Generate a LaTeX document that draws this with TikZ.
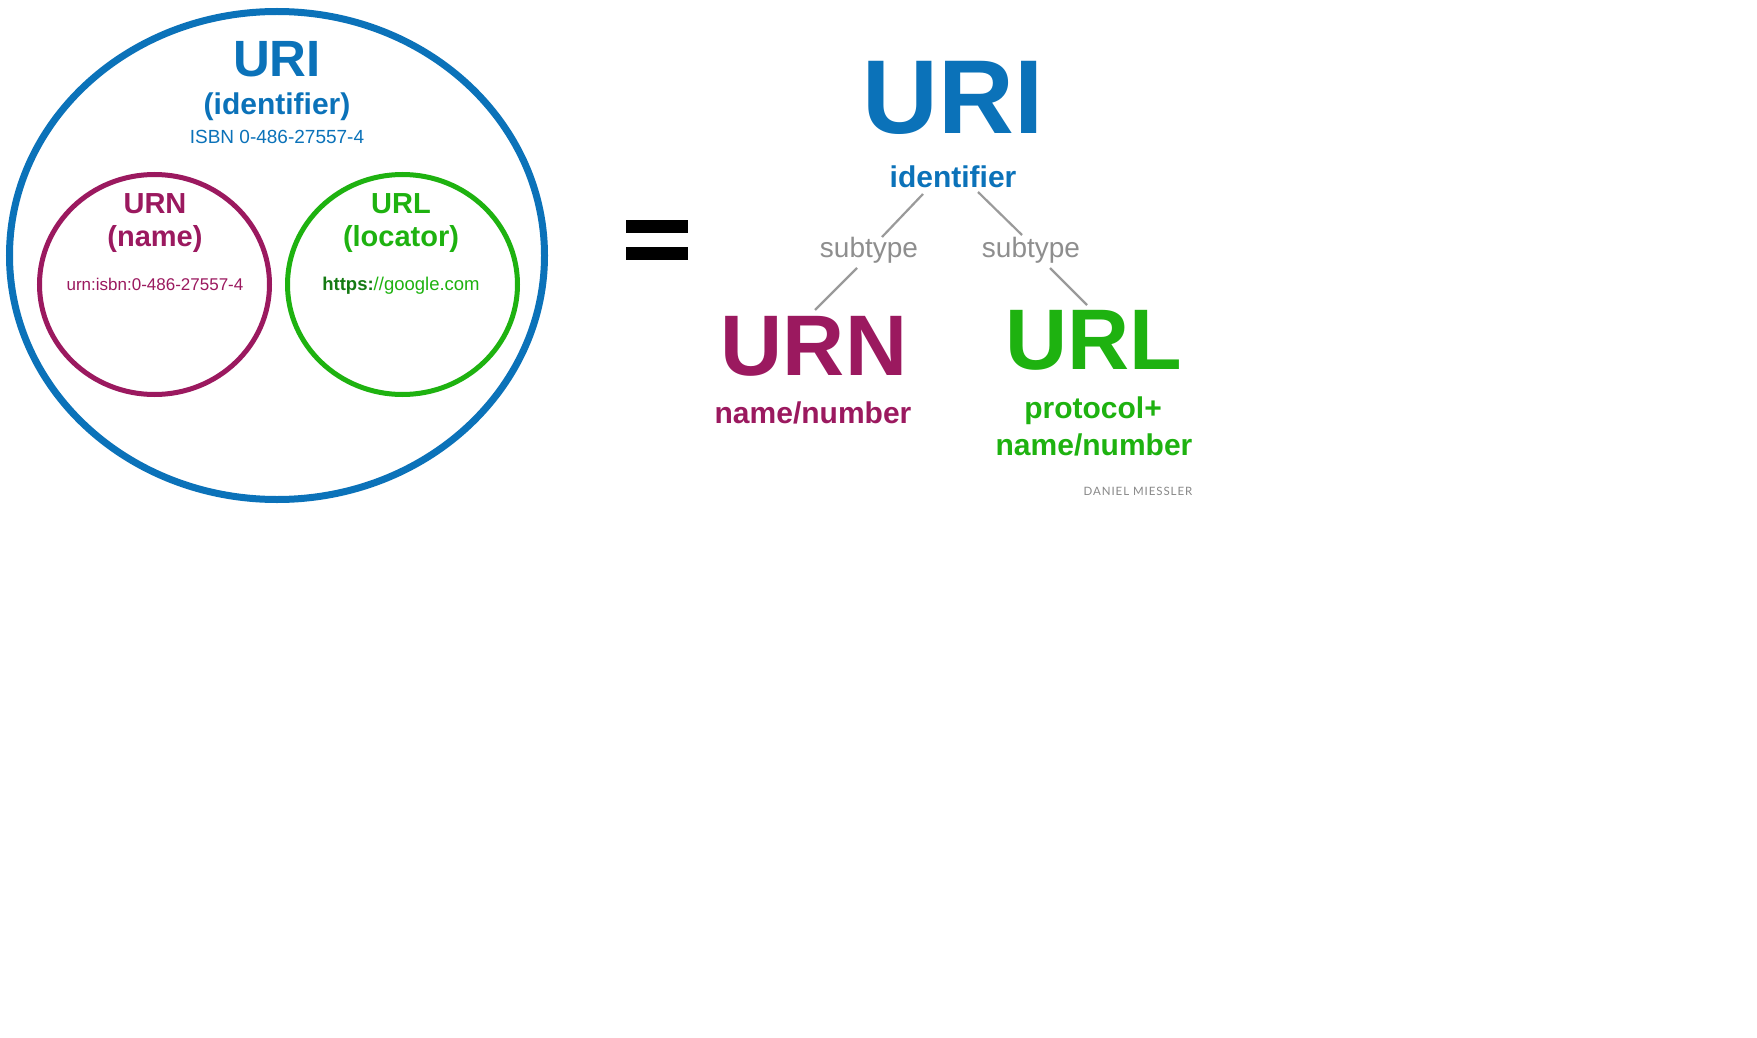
\documentclass[tikz,border=0pt]{standalone}
\usepackage{fontspec}
\setmainfont{Liberation Sans}
\newfontfamily\signfont[LetterSpace=8]{Lato}
\definecolor{uriblue}{HTML}{0B72B9}
\definecolor{urnmag}{HTML}{9B195F}
\definecolor{urlgreen}{HTML}{1EB210}
\definecolor{httpsgreen}{HTML}{157A13}
\definecolor{linegray}{HTML}{9A9A9A}
\definecolor{subgray}{HTML}{8E8E8E}
\definecolor{signgray}{HTML}{888888}
\begin{document}
\begin{tikzpicture}[x=1pt,y=-1pt,
  txt/.style={inner sep=0pt, outer sep=0pt, anchor=base},
  fs/.style={font=\fontsize{#1}{#1}\selectfont},
  fsb/.style={font=\fontsize{#1}{#1}\selectfont\bfseries},
  conn/.style={draw=linegray, line width=2.2pt},
  bar/.style={fill=black}]
\useasboundingbox[fill=white] (0,0) rectangle (1757,1038);

% ---- left: Venn style picture ----
\draw[uriblue, line width=7pt] (277,255.5) ellipse [x radius=267.5, y radius=244];
\draw[urnmag, line width=5pt] (154.5,284.5) ellipse [x radius=115, y radius=110];
\draw[urlgreen, line width=5pt] (402.5,284.5) ellipse [x radius=115, y radius=110];

\node[txt, fsb=51, text=uriblue] (luri) at (277,76.5) {URI};
\node[txt, fsb=30, text=uriblue] (lid) at (277,115) {(identifier)};
\node[txt, fs=19, text=uriblue] (lisbn) at (277,144) {ISBN 0-486-27557-4};

\node[txt, fsb=29, text=urnmag] (lurn) at (155,213) {URN};
\node[txt, fsb=29, text=urnmag] (lname) at (155,246.5) {(name)};
\node[txt, fs=17, text=urnmag] (lurnex) at (155,290) {urn:isbn:0-486-27557-4};

\node[txt, fsb=29, text=urlgreen] (lurl) at (401,213) {URL};
\node[txt, fsb=29, text=urlgreen] (lloc) at (401,246.5) {(locator)};
\node[txt, fs=18.5, text=urlgreen] (lurlex) at (401,290) {{\bfseries\color{httpsgreen}https:}//google.com};

% ---- equals sign ----
\fill[bar] (626,220) rectangle (688,233);
\fill[bar] (626,247) rectangle (688,260);

% ---- right: tree ----
\node[txt, fsb=105, text=uriblue] (ruri) at (953,134) {URI};
\node[txt, fsb=30, text=uriblue] (rid) at (953,187) {identifier};
\node[txt, fs=28, text=subgray] (st1) at (869,257.5) {subtype};
\node[txt, fs=28, text=subgray] (st2) at (1031,257.5) {subtype};
\node[txt, fsb=86, text=urnmag] (rurn) at (814,375) {URN};
\node[txt, fsb=30, text=urnmag] (rnn) at (813,423) {name/number};
\node[txt, fsb=86, text=urlgreen] (rurl) at (1094,369) {URL};
\node[txt, fsb=30, text=urlgreen] (rproto) at (1093,418) {protocol+};
\node[txt, fsb=30, text=urlgreen] (rnn2) at (1094,455) {name/number};
\node[txt, text=signgray, font=\signfont\fontsize{11.5}{11.5}\selectfont] (sig) at (1138,495) {DANIEL MIESSLER};

\coordinate (a1) at (923,194); \coordinate (a2) at (882,237);
\coordinate (b1) at (978,192); \coordinate (b2) at (1022,235);
\coordinate (c1) at (857,268); \coordinate (c2) at (815,310);
\coordinate (d1) at (1050,268); \coordinate (d2) at (1087,305);
\draw[conn] (a1) -- (a2);
\draw[conn] (b1) -- (b2);
\draw[conn] (c1) -- (c2);
\draw[conn] (d1) -- (d2);
\end{tikzpicture}
\end{document}
